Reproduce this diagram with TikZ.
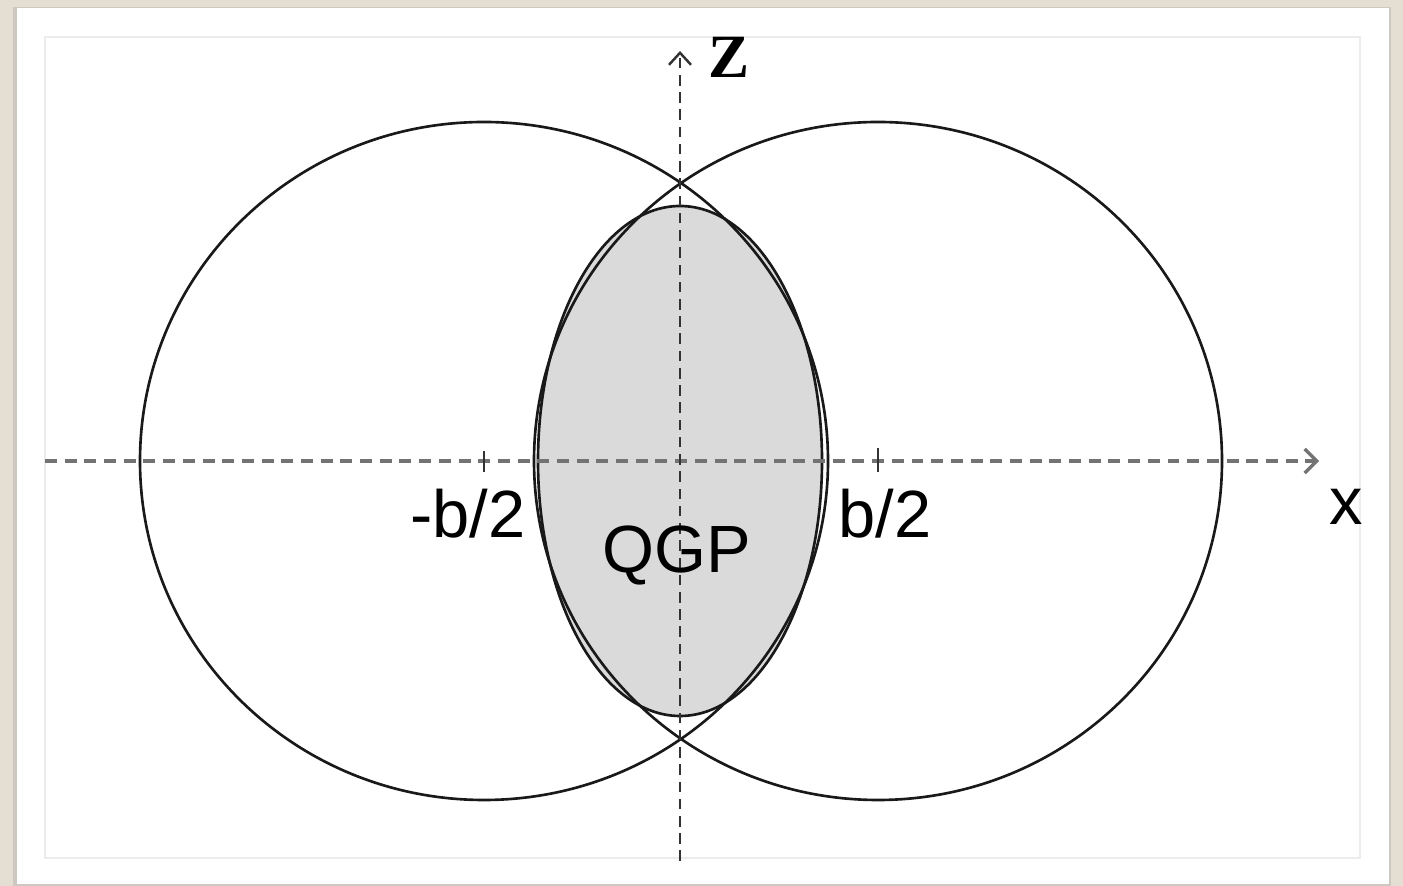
\documentclass[tikz,border=0pt]{standalone}
\usepackage{fontspec}
\setmainfont{Liberation Serif}
\setsansfont{Liberation Sans}
\usepackage{xcolor}
\usetikzlibrary{arrows.meta}
\definecolor{framebeige}{RGB}{228,223,210}
\definecolor{frameshade}{RGB}{205,201,192}
\definecolor{panelline}{RGB}{236,236,236}
\definecolor{qgpgray}{RGB}{218,218,218}

\begin{document}
\begin{tikzpicture}[
        x=0.01cm, y=-0.01cm,
        nucleus/.style={draw=black!90, line width=0.75pt},
        fireball/.style={fill=qgpgray},
        haxis/.style={draw=black!55, line width=0.95pt, dash pattern=on 3.4pt off 2.2pt, -{Straight Barb[length=1.2mm,width=2.4mm]}},
        vaxis/.style={draw=black!80, line width=0.7pt, dash pattern=on 3pt off 1.9pt, -{Straight Barb[length=1.2mm,width=2.2mm]}},
        tickmark/.style={draw=black!80, line width=0.55pt},
        lbl/.style={font=\sffamily\fontsize{19}{19}\selectfont, inner sep=0pt}
    ]
    \useasboundingbox (0,0) rectangle (1403,886);
    % frame
    \fill[framebeige] (0,0) rectangle (1403,886);
    \fill[frameshade] (13,7) rectangle (1391,886);
    \fill[white] (17,8) rectangle (1389,884);
    \draw[panelline, line width=0.6pt] (45,37) rectangle (1360,858);

    \coordinate (lcenter) at (484,461);
    \coordinate (rcenter) at (878,461);
    \coordinate (origin) at (680,461);

    % overlap region
    \fill[fireball] (origin) ellipse [x radius=142, y radius=255];
    \draw[nucleus] (lcenter) ellipse [x radius=344, y radius=339];
    \draw[nucleus] (rcenter) ellipse [x radius=344, y radius=339];
    \draw[nucleus] (origin) ellipse [x radius=142, y radius=255];

    % axes
    \coordinate (xstart) at (45,461);
    \coordinate (xend) at (1319,461);
    \coordinate (zstart) at (680,861);
    \coordinate (zend) at (680,51);
    \draw[haxis] (xstart) -- (xend);
    \draw[vaxis] (zstart) -- (zend);
    \draw[tickmark] (484,451) -- (484,472);
    \draw[tickmark] (878,448) -- (878,472);

    % labels
    \node[font=\rmfamily\bfseries\fontsize{17.5}{17.5}\selectfont, inner sep=0pt] (zlabel) at (729,57) {Z};
    \node[lbl, anchor=base] (xlabel) at (1346,525) {x};
    \node[lbl, anchor=base] (minushalf) at (468,538) {-b/2};
    \node[lbl, anchor=base] (plushalf) at (885,538) {b/2};
    \node[lbl, anchor=base] (qgp) at (677,573) {QGP};
\end{tikzpicture}
\end{document}
